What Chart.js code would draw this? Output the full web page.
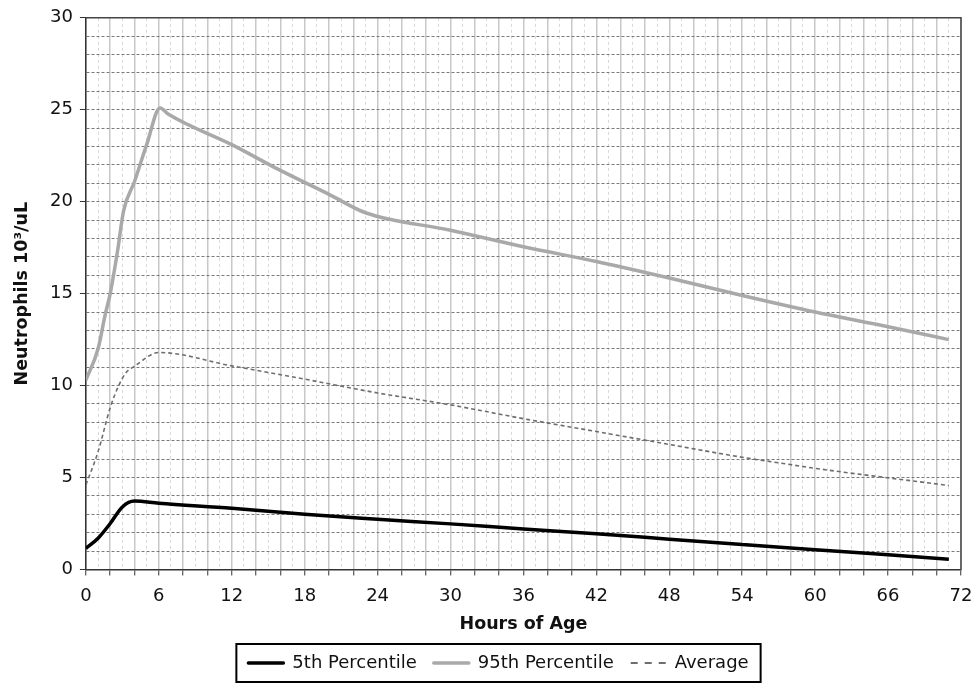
<!DOCTYPE html>
<html>
<head>
<meta charset="utf-8">
<script src="https://cdn.jsdelivr.net/npm/chart.js@4"></script>
<style>
  html, body { margin: 0; padding: 0; background: #fff; }
</style>
</head>
<body>
<canvas id="neutro-chart" width="977" height="684"></canvas>
<script>
// values (hours, 10^3/uL)
const hours5 = [0, 1, 2, 3, 4, 6, 12, 18, 24, 30, 36, 42, 48, 54, 60, 66, 71];
const pct5 = [1.15, 1.7, 2.5, 3.4, 3.72, 3.6, 3.33, 3.0, 2.73, 2.48, 2.2, 1.94, 1.65, 1.36, 1.07, 0.8, 0.56];

const hours95 = [0, 1, 1.6, 2, 2.6, 3.1, 4, 5, 6.1, 6.8, 12, 16, 20, 23, 30, 36, 42, 48, 54, 60, 66, 71];
const pct95 = [10.3, 12.0, 13.9, 15.0, 17.3, 19.5, 21.1, 23.1, 25.1, 24.75, 23.1, 21.7, 20.4, 19.4, 18.45, 17.55, 16.75, 15.85, 14.9, 14.0, 13.2, 12.5];

const hoursAvg = [0, 1, 2, 2.7, 3.3, 4, 6, 12, 18, 24, 30, 36, 42, 48, 54, 57, 60, 64, 71];
const avg = [4.6, 6.4, 8.8, 10.0, 10.7, 11.05, 11.8, 11.07, 10.35, 9.6, 8.95, 8.2, 7.5, 6.8, 6.1, 5.8, 5.5, 5.15, 4.57];

const seriesLabels = ['5th Percentile', '95th Percentile', 'Average'];

function toPoints(xs, ys) {
    return xs.map((x, i) => ({ x: x, y: ys[i] }));
}

Chart.defaults.font.family = "'DejaVu Sans', sans-serif";
Chart.defaults.color = '#111';

const LEGEND_SHIFT = 16;

// plot frame on top/right and the box round the legend
const framePlugin = {
    id: 'frame',
    afterLayout(chart) {
        // nudge the legend a little right, like the original
        const lg = chart.legend;
        lg.left += LEGEND_SHIFT;
        lg.right += LEGEND_SHIFT;
        lg.legendHitBoxes.forEach(h => { h.left += LEGEND_SHIFT; });
    },
    afterDraw(chart) {
        const c = chart.ctx;
        const a = chart.chartArea;
        c.save();
        c.strokeStyle = '#444';
        c.lineWidth = 1.5;
        c.beginPath();
        c.moveTo(a.left, a.top);
        c.lineTo(a.right, a.top);
        c.lineTo(a.right, a.bottom);
        c.stroke();

        const boxes = chart.legend.legendHitBoxes;
        if (boxes && boxes.length) {
            let l = Infinity, r = -Infinity, t = Infinity, b = -Infinity;
            boxes.forEach(h => {
                l = Math.min(l, h.left);
                r = Math.max(r, h.left + h.width);
                t = Math.min(t, h.top);
                b = Math.max(b, h.top + h.height);
            });
            c.strokeStyle = '#000';
            c.lineWidth = 2;
            c.strokeRect(l - 12, t - 10, r - l + 24, b - t + 20);
        }
        c.restore();
    }
};

const ctx = document.getElementById('neutro-chart').getContext('2d');

new Chart(ctx, {
    type: 'line',
    data: {
        datasets: [{
            label: seriesLabels[0],
            data: toPoints(hours5, pct5),
            borderColor: '#000',
            backgroundColor: '#000',
            borderWidth: 3.5,
            pointRadius: 0,
            cubicInterpolationMode: 'monotone'
        }, {
            label: seriesLabels[1],
            data: toPoints(hours95, pct95),
            borderColor: '#a9a9a9',
            backgroundColor: '#a9a9a9',
            borderWidth: 3.5,
            pointRadius: 0,
            cubicInterpolationMode: 'monotone'
        }, {
            label: seriesLabels[2],
            data: toPoints(hoursAvg, avg),
            borderColor: '#6e6e6e',
            backgroundColor: '#6e6e6e',
            borderWidth: 1.6,
            borderDash: [4, 3],
            pointRadius: 0,
            cubicInterpolationMode: 'monotone'
        }]
    },
    options: {
        responsive: false,
        animation: false,
        layout: {
            padding: { left: 4, right: 16, top: 16, bottom: 2 }
        },
        plugins: {
            tooltip: { enabled: false },
            legend: {
                position: 'bottom',
                labels: {
                    usePointStyle: true,
                    pointStyle: 'line',
                    pointStyleWidth: 35,
                    padding: 17,
                    color: '#111',
                    font: { size: 18 },
                    generateLabels(chart) {
                        const items = Chart.defaults.plugins.legend.labels.generateLabels(chart);
                        items.forEach(item => {
                            const ds = chart.data.datasets[item.datasetIndex];
                            item.lineWidth = ds.borderDash ? 2 : ds.borderWidth;
                            item.lineDash = ds.borderDash ? [7, 7] : [];
                            item.strokeStyle = ds.borderColor;
                            item.lineCap = ds.borderDash ? 'butt' : 'round';
                        });
                        return items;
                    }
                }
            }
        },
        scales: {
            x: {
                type: 'linear',
                min: 0,
                max: 72,
                ticks: {
                    stepSize: 1,
                    maxTicksLimit: 100,
                    autoSkip: false,
                    maxRotation: 0,
                    padding: 4,
                    color: '#111',
                    font: { size: 18, lineHeight: 1.89 },
                    callback: v => (v % 6 === 0 ? v : '')
                },
                grid: {
                    color: c => (c.tick && c.tick.value % 2 ? '#d8d8d8' : '#c8c8c8'),
                    lineWidth: c => (c.tick && c.tick.value % 2 ? 1 : 1.5),
                    tickLength: 6,
                    tickColor: c => (c.tick && c.tick.value % 2 ? 'rgba(0,0,0,0)' : '#333'),
                    tickWidth: 1
                },
                border: {
                    color: '#333',
                    width: 1.5,
                    dash: c => (c.tick && c.tick.value % 2 ? [3, 3] : [])
                },
                title: {
                    display: true,
                    text: 'Hours of Age',
                    color: '#111',
                    font: { size: 17.5, weight: 'bold' },
                    padding: { top: -3.5, bottom: 2 }
                }
            },
            y: {
                min: 0,
                max: 30,
                ticks: {
                    stepSize: 1,
                    maxTicksLimit: 100,
                    autoSkip: false,
                    padding: 7,
                    color: '#111',
                    font: { size: 18 },
                    callback: v => (v % 5 === 0 ? v : '')
                },
                grid: {
                    color: '#7a7a7a',
                    lineWidth: 1,
                    tickLength: 6,
                    tickColor: c => (c.tick && c.tick.value % 5 === 0 ? '#333' : 'rgba(0,0,0,0)')
                },
                border: {
                    color: '#333',
                    width: 1.5,
                    dash: c => (c.tick ? [3, 2] : [])
                },
                title: {
                    display: true,
                    text: 'Neutrophils 10³/uL',
                    color: '#111',
                    font: { size: 17.5, weight: 'bold' },
                    padding: { top: 8, bottom: 10 }
                }
            }
        }
    },
    plugins: [framePlugin]
});
</script>
</body>
</html>
